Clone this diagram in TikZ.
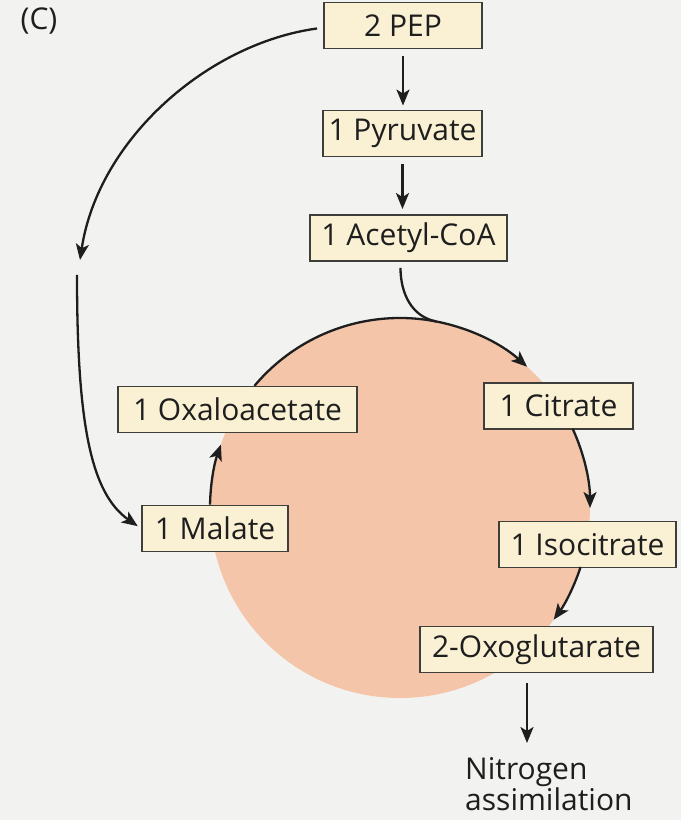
\documentclass[tikz,border=0pt]{standalone}
\usepackage{fontspec}
\setmainfont{Open Sans}
\usetikzlibrary{arrows.meta}
\definecolor{paper}{RGB}{242,242,240}
\definecolor{boxfill}{RGB}{250,241,212}
\definecolor{boxline}{RGB}{62,62,58}
\definecolor{cyclefill}{RGB}{244,197,168}
\definecolor{ink}{RGB}{30,30,30}
\begin{document}
\begin{tikzpicture}[x=1pt,y=1pt,
  metab/.style={draw=boxline, line width=1.9pt, fill=boxfill, inner sep=0pt,
    minimum height=46pt, text=ink, font=\fontsize{30}{36}\selectfont},
  flow/.style={draw=ink, line width=2.3pt, -{Stealth[length=16pt,width=13pt,inset=4pt]}},
  plain/.style={draw=ink, line width=2.3pt}]
% page
\fill[paper] (0,0) rectangle (681,820);
\useasboundingbox (0,0) rectangle (681,820);

% the cycle disc
\coordinate (cyc) at (400,312);
\fill[cyclefill] (cyc) circle[radius=190];

% panel letter
\node[text=ink, font=\fontsize{30}{34}\selectfont] (panel) at (39,799) {(C)};

% metabolites
\node[metab, minimum width=158pt] (pep) at (403,794.5) {2 PEP};
\node[metab, minimum width=159pt] (pyr) at (402.5,686.5) {1 Pyruvate};
\node[metab, minimum width=197pt] (acoa) at (408.5,582) {1 Acetyl-CoA};
\node[metab, minimum width=239pt] (oaa) at (237.5,410.5) {1 Oxaloacetate};
\node[metab, minimum width=149pt] (cit) at (558.5,414) {1 Citrate};
\node[metab, minimum width=146pt] (mal) at (215,291.5) {1 Malate};
\node[metab, minimum width=177pt] (icit) at (587.5,275.5) {1 Isocitrate};
\node[metab, minimum width=233pt] (oxo) at (536.5,170.5) {2-Oxoglutarate};
\node[text=ink, font=\fontsize{30}{31}\selectfont, align=left, inner sep=0pt,
  anchor=north west] (nit) at (465,63) {Nitrogen\\assimilation};

% linear route
\draw[flow, shorten <=7pt, shorten >=4pt] (pep.south) -- (pep.south |- pyr.north);
\draw[flow, shorten <=7pt, shorten >=5pt] (pyr.south) -- (pyr.south |- acoa.north);
\coordinate (join) at ([shift={(79:190)}]cyc);
\draw[plain] ([xshift=-8pt,yshift=-6pt]acoa.south) to[out=-90, in=169] (join);

% cycle steps along the disc edge
\draw[flow] ([shift={(140:190)}]cyc) arc[start angle=140, end angle=48, radius=190];
\draw[flow] ([shift={(24.6:190)}]cyc) arc[start angle=24.6, end angle=0, radius=190];
\draw[flow] ([shift={(-18.1:190)}]cyc) arc[start angle=-18.1, end angle=-36, radius=190];
\draw[flow] ([shift={(179:190)}]cyc) arc[start angle=179, end angle=160.5, radius=190];

% exit towards nitrogen assimilation
\coordinate (nend) at (527,77);
\draw[flow] ([yshift=-10pt]oxo.south -| nend) -- (nend);

% bypass from PEP to malate
\coordinate (mid) at (80,560);
\coordinate (resume) at (77,545);
\draw[flow] ([xshift=-6pt,yshift=-3pt]pep.west) .. controls +(-110,-15) and +(18,120) .. (mid);
\draw[flow, shorten >=4pt] (resume) .. controls +(0,-150) and +(-50,35) .. (mal.west);
\end{tikzpicture}
\end{document}
